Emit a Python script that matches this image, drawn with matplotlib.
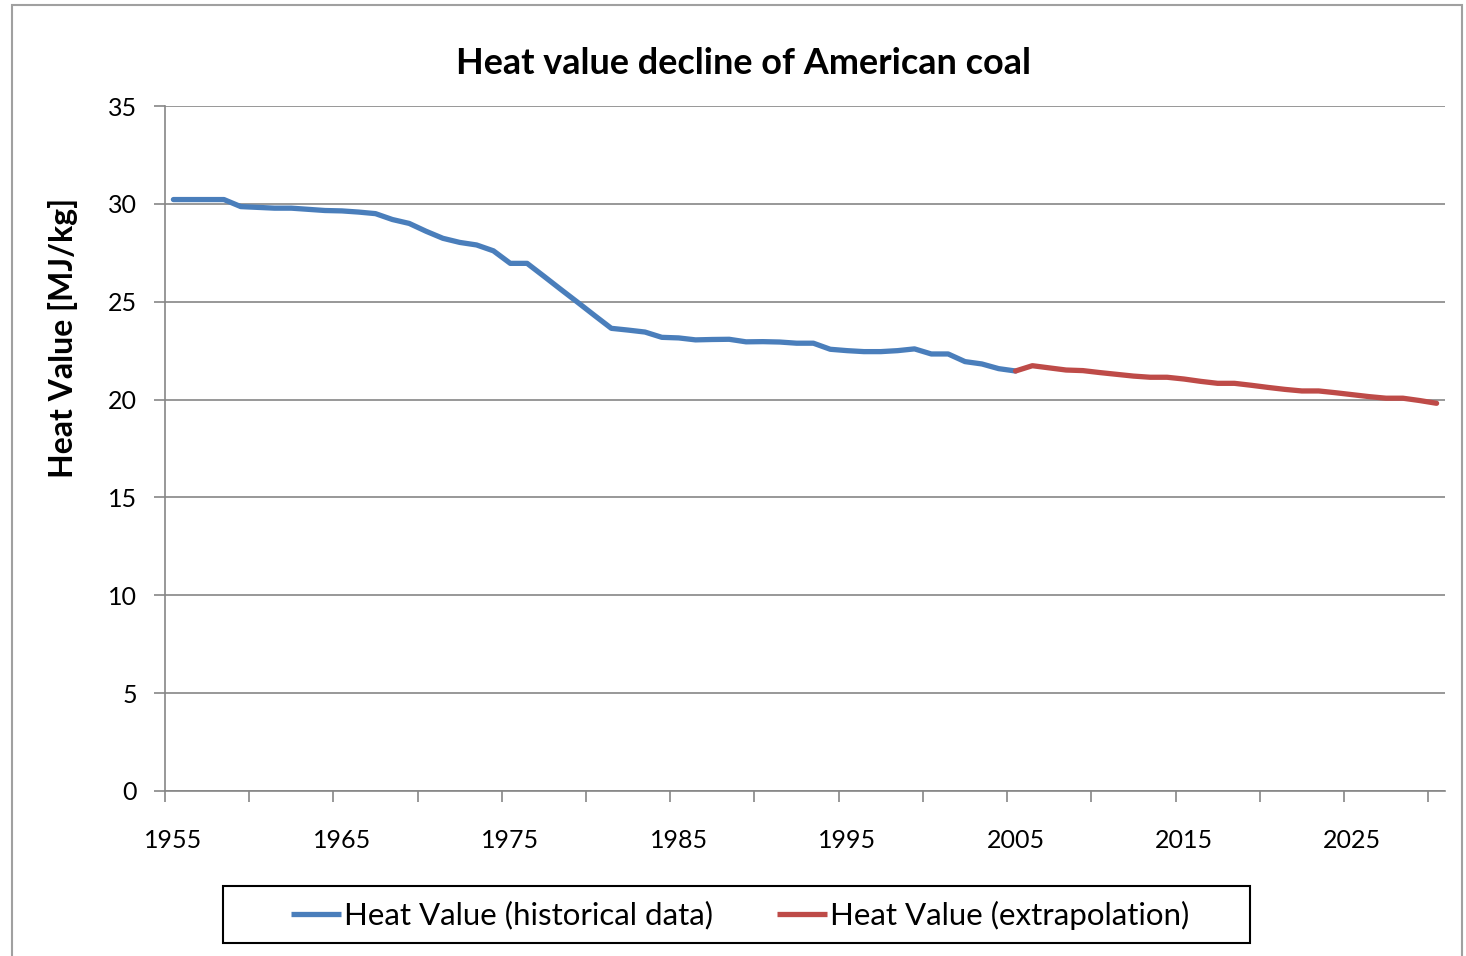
import matplotlib
matplotlib.use("Agg")
import matplotlib.pyplot as plt
from matplotlib.patches import Rectangle
from matplotlib.lines import Line2D

plt.rcParams['font.family'] = ['Lato', 'DejaVu Sans']

hist_years = list(range(1955, 2006))
hist_values = [30.22, 30.22, 30.22, 30.22, 29.86, 29.82, 29.78, 29.78, 29.72, 29.66,
               29.64, 29.58, 29.50, 29.20, 29.00, 28.60, 28.24, 28.03, 27.90, 27.60,
               26.96, 26.96, 26.30, 25.63, 24.97, 24.30, 23.64, 23.55, 23.45, 23.18,
               23.15, 23.05, 23.07, 23.08, 22.95, 22.96, 22.94, 22.88, 22.88, 22.57,
               22.50, 22.45, 22.45, 22.50, 22.59, 22.33, 22.33, 21.94, 21.82, 21.58,
               21.46]
extra_years = list(range(2005, 2031))
extra_values = [21.46, 21.73, 21.62, 21.51, 21.48, 21.38, 21.29, 21.20, 21.14, 21.14,
                21.05, 20.93, 20.83, 20.83, 20.73, 20.62, 20.52, 20.44, 20.44, 20.35,
                20.25, 20.15, 20.07, 20.07, 19.95, 19.81]
x_labels = [1955, 1965, 1975, 1985, 1995, 2005, 2015, 2025]
y_ticks = [0, 5, 10, 15, 20, 25, 30, 35]

W, H = 1466, 956
fig = plt.figure(figsize=(W / 100, H / 100), dpi=100)
ax = fig.add_axes([165 / W, 1 - 791 / H, (1445 - 165) / W, (791 - 106) / H])

grey = '#868686'
blue = '#4A7EBB'
red = '#BE4B48'
lw = 3.8

ax.plot(hist_years, hist_values, color=blue, lw=lw, solid_joinstyle='round',
        solid_capstyle='round', label='Heat Value (historical data)', zorder=3)
ax.plot(extra_years, extra_values, color=red, lw=lw, solid_joinstyle='round',
        solid_capstyle='round', label='Heat Value (extrapolation)', zorder=3)

ax.set_xlim(1954.5, 2030.5)
ax.set_ylim(0, 35)
ax.set_yticks(y_ticks)
ax.set_xticks(x_labels)
ax.set_xticks([1954.5 + 5 * k for k in range(16)], minor=True)
ax.tick_params(axis='x', which='major', length=0, pad=27, labelsize=18, colors='black')
ax.tick_params(axis='x', which='minor', length=8, width=1.2, color=grey, direction='out')
ax.tick_params(axis='y', length=8, width=1.2, color=grey, direction='out', labelsize=18, pad=12)
ax.yaxis.grid(True, color=grey, lw=1.2)
ax.set_axisbelow(True)
for s in ['top', 'right']:
    ax.spines[s].set_visible(False)
for s in ['left', 'bottom']:
    ax.spines[s].set_color(grey)
    ax.spines[s].set_linewidth(1.2)

fig.text(743 / W, 1 - 63 / H, 'Heat value decline of American coal', fontsize=25.9,
         fontweight='bold', ha='center', va='center')
fig.text(63 / W, 1 - 338 / H, 'Heat Value [MJ/kg]', fontsize=23, fontweight='bold',
         rotation=90, ha='center', va='center')

handles = [Line2D([0], [0], color=blue, lw=lw, solid_capstyle='butt'),
           Line2D([0], [0], color=red, lw=lw, solid_capstyle='butt')]
leg = fig.legend(handles, ['Heat Value (historical data)', 'Heat Value (extrapolation)'],
                 loc='center', bbox_to_anchor=(740 / W, 1 - 915 / H),
                 ncol=2, fontsize=22.5, frameon=False,
                 handlelength=1.6, handletextpad=0.1, columnspacing=2.05,
                 borderpad=0.0)

fig.patches.append(Rectangle((223 / W, 1 - 943 / H), (1250 - 223) / W, (943 - 886) / H,
                             transform=fig.transFigure, fill=False, edgecolor='black',
                             lw=1.5))
fig.patches.append(Rectangle((12 / W, -0.01), (1462 - 12) / W, 1 - 5 / H + 0.01,
                             transform=fig.transFigure, fill=False, edgecolor='#A0A0A0',
                             lw=1.5))

fig.savefig('out.png', dpi=100)
